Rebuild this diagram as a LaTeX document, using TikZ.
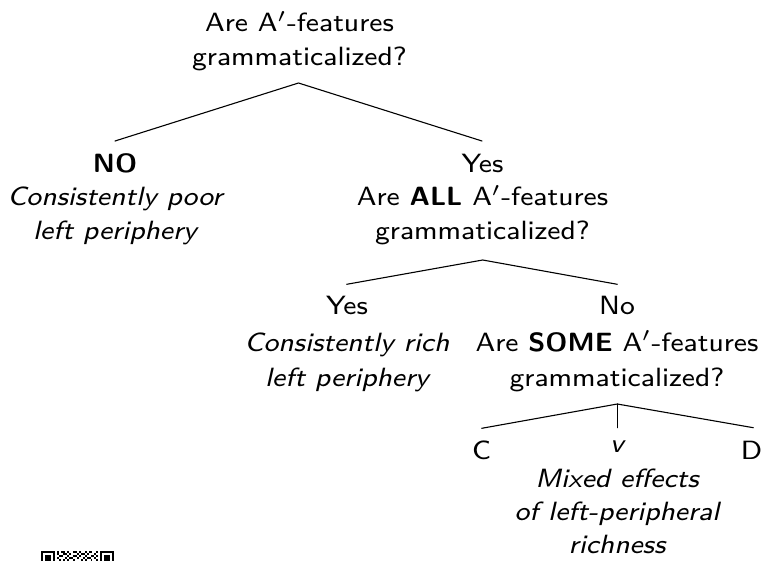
\documentclass[tikz,border=0pt]{standalone}
\usepackage{tikz}

\tikzset{
  txt/.style={anchor=base, inner sep=0pt, font=\sffamily\fontsize{8}{9.6}\selectfont,
              xscale=3.48, yscale=3.3, transform shape},
  branch/.style={line width=1.1pt, line cap=round},
  qrmod/.style={fill=black, draw=none}
}

\begin{document}
\begin{tikzpicture}[x=1pt, y=-1pt]
\useasboundingbox (0,0) rectangle (765,560);

% --- root question
\node[txt] (root1) at (299.5,31.7) {Are A$'$-features};
\node[txt] (root2) at (299.5,65)   {grammaticalized?};

% --- left answer
\node[txt] (no1) at (115,172.3) {\bfseries NO};
\node[txt] (no2) at (115,205)   {\itshape Consistently poor};
\node[txt] (no3) at (115,239)   {\itshape left periphery};

% --- right answer with follow-up question
\node[txt] (yes1) at (482.5,172.3) {Yes};
\node[txt] (yes2) at (482.5,205.6) {Are \textbf{ALL} A$'$-features};
\node[txt] (yes3) at (482.5,239)   {grammaticalized?};

% --- second level
\node[txt] (rich1) at (347,314.5) {Yes};
\node[txt] (rich2) at (347,351)   {\itshape Consistently rich};
\node[txt] (rich3) at (347,386)   {\itshape left periphery};

\node[txt] (some1) at (617,314.5) {No};
\node[txt] (some2) at (617,351)   {Are \textbf{SOME} A$'$-features};
\node[txt] (some3) at (617,386)   {grammaticalized?};

% --- third level
\node[txt] (cc) at (481.5,459) {C};
\node[txt] (vv) at (617,452)   {\itshape v};
\node[txt] (dd) at (751.5,459) {D};

\node[txt] (mix1) at (617,487.3) {\itshape Mixed effects};
\node[txt] (mix2) at (617,520)   {\itshape of left-peripheral};
\node[txt] (mix3) at (617,553.3) {\itshape richness};

% --- branch points
\coordinate (rootB) at (298.5,83);
\coordinate (noT)   at (115,141);
\coordinate (yesT)  at (482,141);
\coordinate (yesB)  at (482.7,260);
\coordinate (richT) at (346.7,284.3);
\coordinate (someT) at (617.3,284.3);
\coordinate (someB) at (617.3,404);
\coordinate (cT)    at (481.7,428.3);
\coordinate (vT)    at (617.3,427.7);
\coordinate (dT)    at (753.3,427.7);

\draw[branch] (noT) -- (rootB) -- (yesT);
\draw[branch] (richT) -- (yesB) -- (someT);
\draw[branch] (cT) -- (someB) -- (dT);
\draw[branch] (someB) -- (vT);

% --- code symbol at the lower left edge
\begin{scope}
  \clip (0,0) rectangle (765,560);
  \def\qm{1.98}
  % finder patterns (top part)
  \foreach \ox in {41, 100.4} {
    \fill[qrmod] (\ox,551) rectangle ++(7*\qm,7*\qm);
    \fill[white] (\ox+\qm,551+\qm) rectangle ++(5*\qm,5*\qm);
    \fill[qrmod] (\ox+2*\qm,551+2*\qm) rectangle ++(3*\qm,3*\qm);
  }
  % data modules
  \foreach \c/\r in {8/0,10/0,11/0,13/0,16/0,17/0,19/0,22/0,24/0,25/0,28/0,
                     8/1,11/1,12/1,14/1,18/1,20/1,21/1,23/1,27/1,
                     9/2,10/2,13/2,16/2,17/2,19/2,22/2,25/2,26/2,28/2,
                     8/3,12/3,14/3,15/3,18/3,21/3,23/3,24/3,27/3,
                     9/4,11/4,13/4,16/4,20/4,22/4,25/4,28/4} {
    \fill[qrmod] (41+\c*\qm,551+\r*\qm) rectangle ++(\qm,\qm);
  }
\end{scope}
\end{tikzpicture}
\end{document}
